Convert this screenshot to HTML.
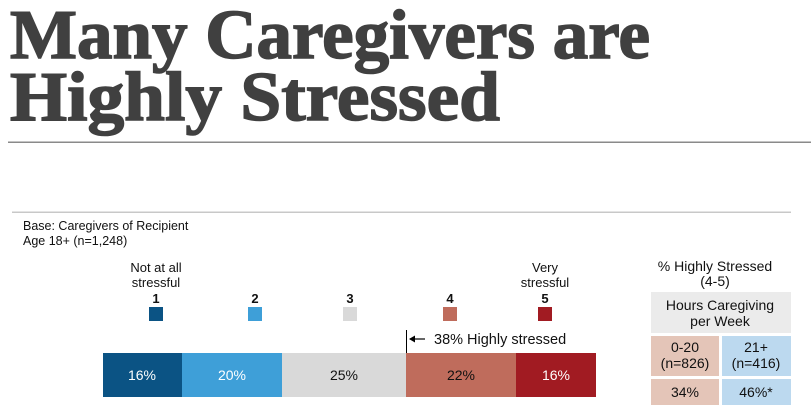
<!DOCTYPE html>
<html><head><meta charset="utf-8"><style>
body{margin:0;width:811px;height:414px;background:#fff;overflow:hidden;font-family:"Liberation Sans",Arial,sans-serif;}
</style></head><body>
<svg width="811" height="414" xmlns="http://www.w3.org/2000/svg" font-family="Liberation Sans, Arial, sans-serif">
<text x="10" y="58" font-family="Liberation Serif, serif" font-weight="bold" font-size="70" fill="#404040" stroke="#404040" stroke-width="1.5" textLength="640" lengthAdjust="spacingAndGlyphs">Many Caregivers are</text>
<text x="10" y="120" font-family="Liberation Serif, serif" font-weight="bold" font-size="70" fill="#404040" stroke="#404040" stroke-width="1.5" textLength="490" lengthAdjust="spacingAndGlyphs">Highly Stressed</text>
<rect x="8" y="141.5" width="803" height="1.5" fill="#8a8a8a"/>
<rect x="12" y="211.5" width="779" height="1.5" fill="#c8c8c8"/>
<text x="23" y="230" font-size="12.5" fill="#111">Base: Caregivers of Recipient</text>
<text x="23" y="245" font-size="12.5" fill="#111">Age 18+ (n=1,248)</text>
<g font-size="13" fill="#111" text-anchor="middle">
<text x="156" y="272">Not at all</text><text x="156" y="287">stressful</text>
<text x="545" y="272">Very</text><text x="545" y="287">stressful</text>
<g font-weight="bold" font-size="13"><text x="156" y="303">1</text><text x="255" y="303">2</text><text x="350" y="303">3</text><text x="450" y="303">4</text><text x="545" y="303">5</text></g>
</g>
<rect x="149" y="307" width="14" height="14" fill="#0b5384"/>
<rect x="248" y="307" width="14" height="14" fill="#3e9fd8"/>
<rect x="343" y="307" width="14" height="14" fill="#d9d9d9"/>
<rect x="443" y="307" width="14" height="14" fill="#bf6c5c"/>
<rect x="538" y="307" width="14" height="14" fill="#a11b22"/>
<line x1="406.5" y1="330" x2="406.5" y2="353" stroke="#000" stroke-width="1"/>
<line x1="410" y1="339" x2="425" y2="339" stroke="#000" stroke-width="1.2"/>
<path d="M409 339 L415 335.5 L415 342.5 Z" fill="#000"/>
<text x="434" y="344" font-size="14.5" fill="#111">38% Highly stressed</text>
<rect x="103" y="353" width="79" height="44" fill="#0b5384"/>
<rect x="182" y="353" width="100" height="44" fill="#3e9fd8"/>
<rect x="282" y="353" width="124" height="44" fill="#d9d9d9"/>
<rect x="406" y="353" width="110" height="44" fill="#bf6c5c"/>
<rect x="516" y="353" width="80" height="44" fill="#a11b22"/>
<g font-size="14" text-anchor="middle">
<text x="142" y="380" fill="#fff">16%</text>
<text x="232" y="380" fill="#fff">20%</text>
<text x="344" y="380" fill="#111">25%</text>
<text x="461" y="380" fill="#111">22%</text>
<text x="556" y="380" fill="#fff">16%</text>
</g>
<g font-size="14" text-anchor="middle" fill="#111">
<text x="715" y="271">% Highly Stressed</text>
<text x="715" y="286">(4-5)</text>
<rect x="651" y="292" width="140" height="41" fill="#ebebeb"/>
<text x="720" y="310">Hours Caregiving</text>
<text x="720" y="326">per Week</text>
<rect x="651" y="336" width="68" height="40" fill="#e4c5b8"/>
<rect x="722" y="336" width="69" height="40" fill="#bcd9ef"/>
<text x="685" y="352">0-20</text><text x="685" y="368">(n=826)</text>
<text x="756" y="352">21+</text><text x="756" y="368">(n=416)</text>
<rect x="651" y="379" width="68" height="26" fill="#e4c5b8"/>
<rect x="722" y="379" width="69" height="26" fill="#bcd9ef"/>
<text x="685" y="397">34%</text><text x="756" y="397">46%*</text>
</g>
</svg>
</body></html>
